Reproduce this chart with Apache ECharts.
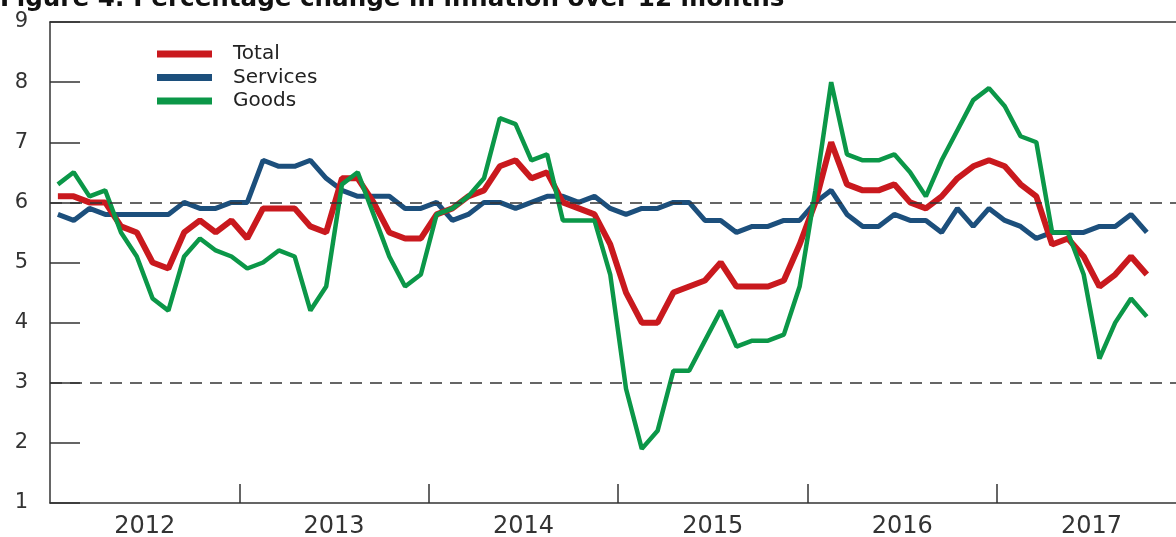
<!DOCTYPE html>
<html>
<head>
<meta charset="utf-8">
<script src="https://cdn.jsdelivr.net/npm/echarts@6/dist/echarts.min.js"></script>
<style>
  html, body { margin: 0; padding: 0; background: #fff; }
  #chart { width: 1176px; height: 537px; }
</style>
</head>
<body>
<div id="chart"></div>
<script>
// monthly data, Jan 2012 - Oct 2017
var years = ['2012', '2013', '2014', '2015', '2016', '2017'];
var yTicks = [1, 2, 3, 4, 5, 6, 7, 8, 9];
var refLines = [6, 3];

var total = [
  6.1, 6.1, 6.0, 6.0, 5.6, 5.5, 5.0, 4.9, 5.5, 5.7, 5.5, 5.7,
  5.4, 5.9, 5.9, 5.9, 5.6, 5.5, 6.4, 6.4, 6.0, 5.5, 5.4, 5.4,
  5.8, 5.9, 6.1, 6.2, 6.6, 6.7, 6.4, 6.5, 6.0, 5.9, 5.8, 5.3,
  4.5, 4.0, 4.0, 4.5, 4.6, 4.7, 5.0, 4.6, 4.6, 4.6, 4.7, 5.3,
  6.0, 7.0, 6.3, 6.2, 6.2, 6.3, 6.0, 5.9, 6.1, 6.4, 6.6, 6.7,
  6.6, 6.3, 6.1, 5.3, 5.4, 5.1, 4.6, 4.8, 5.1, 4.8
];
var services = [
  5.8, 5.7, 5.9, 5.8, 5.8, 5.8, 5.8, 5.8, 6.0, 5.9, 5.9, 6.0,
  6.0, 6.7, 6.6, 6.6, 6.7, 6.4, 6.2, 6.1, 6.1, 6.1, 5.9, 5.9,
  6.0, 5.7, 5.8, 6.0, 6.0, 5.9, 6.0, 6.1, 6.1, 6.0, 6.1, 5.9,
  5.8, 5.9, 5.9, 6.0, 6.0, 5.7, 5.7, 5.5, 5.6, 5.6, 5.7, 5.7,
  6.0, 6.2, 5.8, 5.6, 5.6, 5.8, 5.7, 5.7, 5.5, 5.9, 5.6, 5.9,
  5.7, 5.6, 5.4, 5.5, 5.5, 5.5, 5.6, 5.6, 5.8, 5.5
];
var goods = [
  6.3, 6.5, 6.1, 6.2, 5.5, 5.1, 4.4, 4.2, 5.1, 5.4, 5.2, 5.1,
  4.9, 5.0, 5.2, 5.1, 4.2, 4.6, 6.3, 6.5, 5.8, 5.1, 4.6, 4.8,
  5.8, 5.9, 6.1, 6.4, 7.4, 7.3, 6.7, 6.8, 5.7, 5.7, 5.7, 4.8,
  2.9, 1.9, 2.2, 3.2, 3.2, 3.7, 4.2, 3.6, 3.7, 3.7, 3.8, 4.6,
  6.2, 8.0, 6.8, 6.7, 6.7, 6.8, 6.5, 6.1, 6.7, 7.2, 7.7, 7.9,
  7.6, 7.1, 7.0, 5.5, 5.5, 4.8, 3.4, 4.0, 4.4, 4.1
];

// month index of each year boundary and of each year's middle
var yearStarts = years.slice(1).map(function(y, i) { return (i + 1) * 12; });
var yearMids = years.map(function(y, i) { return i * 12 + 6; });
var monthsShown = 71.35; // the figure is cropped just before the end of 2017

var toPoints = function(arr) {
  return arr.map(function(v, i) { return [i + 0.5, v]; });
};

var chart = echarts.init(document.getElementById('chart'));
var axisColor = '#333';
var font = 'DejaVu Sans';

chart.setOption({
  animation: false,
  title: {
    text: 'Figure 4: Percentage change in inflation over 12 months',
    left: 0,
    top: -13,
    padding: 0,
    textStyle: { fontFamily: 'DejaVu Sans', fontWeight: 'bold', fontSize: 24.6, color: '#111' }
  },
  legend: {
    orient: 'vertical',
    left: 157,
    top: 44,
    padding: 0,
    itemWidth: 55,
    itemHeight: 7,
    itemGap: 3.5,
    icon: 'rect',
    textStyle: { fontFamily: font, fontSize: 20, color: '#222', padding: [0, 0, 0, 16] },
    data: ['Total', 'Services', 'Goods']
  },
  grid: {
    left: 50,
    right: 0,
    top: 22,
    bottom: 34,
    outerBoundsMode: 'none'
  },
  xAxis: [
    {
      type: 'value',
      min: 0,
      max: monthsShown,
      axisLine: { show: true, lineStyle: { color: axisColor, width: 1.5 } },
      axisTick: {
        show: true, inside: true, length: 19,
        customValues: yearStarts,
        lineStyle: { color: axisColor, width: 1.5 }
      },
      axisLabel: {
        fontFamily: font, fontSize: 24, color: axisColor, margin: 12,
        customValues: yearMids,
        formatter: function(v) { return years[Math.floor(v / 12)]; }
      },
      splitLine: { show: false }
    },
    {
      type: 'value',
      position: 'top',
      min: 0,
      max: monthsShown,
      axisLine: { show: true, lineStyle: { color: axisColor, width: 1.5 } },
      axisTick: { show: false },
      axisLabel: { show: false },
      splitLine: { show: false }
    }
  ],
  yAxis: {
    type: 'value',
    min: yTicks[0],
    max: yTicks[yTicks.length - 1],
    interval: 1,
    axisLine: { show: true, lineStyle: { color: axisColor, width: 1.5 } },
    axisTick: { show: true, inside: true, length: 30, lineStyle: { color: axisColor, width: 1.5 } },
    axisLabel: { fontFamily: font, fontSize: 21, color: axisColor, margin: 22 },
    splitLine: { show: false }
  },
  series: [
    {
      name: 'Total',
      type: 'line',
      data: toPoints(total),
      showSymbol: false,
      color: '#c9191e',
      lineStyle: { width: 6 },
      z: 3,
      markLine: {
        silent: true,
        symbol: 'none',
        label: { show: false },
        lineStyle: { color: axisColor, width: 1.5, type: [12, 8] },
        data: refLines.map(function(v) { return { yAxis: v }; })
      }
    },
    {
      name: 'Services',
      type: 'line',
      data: toPoints(services),
      showSymbol: false,
      color: '#1c4f7c',
      lineStyle: { width: 5 },
      z: 2
    },
    {
      name: 'Goods',
      type: 'line',
      data: toPoints(goods),
      showSymbol: false,
      color: '#0b9748',
      lineStyle: { width: 4.5 },
      z: 4
    }
  ]
});
</script>
</body>
</html>
